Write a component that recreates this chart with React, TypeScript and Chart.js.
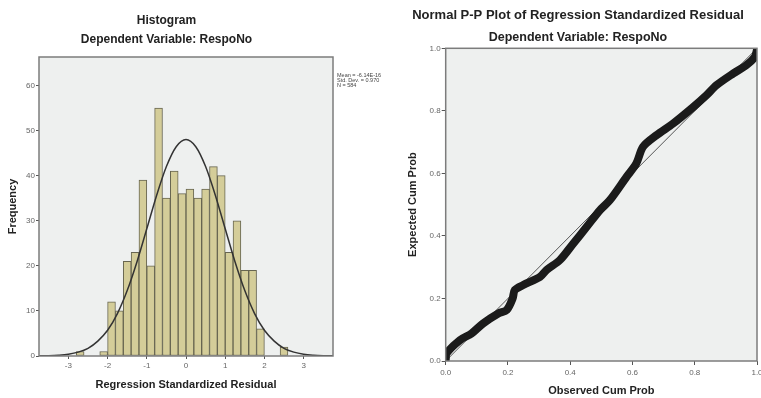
import React, { useEffect, useRef } from "react";
import { Chart, registerables } from "chart.js";

Chart.register(...registerables);

// ---------- Histogram data ----------
const binCenters = [-2.7, -2.5, -2.3, -2.1, -1.9, -1.7, -1.5, -1.3, -1.1, -0.9, -0.7, -0.5, -0.3, -0.1, 0.1, 0.3, 0.5, 0.7, 0.9, 1.1, 1.3, 1.5, 1.7, 1.9, 2.1, 2.3, 2.5];
const binCounts = [1, 0, 0, 1, 12, 10, 21, 23, 39, 20, 55, 35, 41, 36, 37, 35, 37, 42, 40, 23, 30, 19, 19, 6, 0, 0, 2];

// normal curve
const curveX = [-3.75, -3.5, -3.25, -3, -2.75, -2.5, -2.25, -2, -1.75, -1.5, -1.25, -1, -0.75, -0.5, -0.25, 0, 0.25, 0.5, 0.75, 1, 1.25, 1.5, 1.75, 2, 2.25, 2.5, 2.75, 3, 3.25, 3.5, 3.75];
const curveY = [0.03, 0.07, 0.18, 0.4, 0.86, 1.7, 3.3, 5.7, 9.4, 14.5, 20.9, 28.2, 35.6, 42.0, 46.4, 48.0, 46.4, 42.0, 35.6, 28.2, 20.9, 14.5, 9.4, 5.7, 3.3, 1.7, 0.86, 0.4, 0.18, 0.07, 0.03];

const histXTicks = [-3, -2, -1, 0, 1, 2, 3];
const histYTicks = [0, 10, 20, 30, 40, 50, 60];
const statsLines = ["Mean = -6.14E-16", "Std. Dev. = 0.970", "N = 584"];

// ---------- P-P plot data ----------
const observedCum = [0.0, 0.003, 0.046, 0.083, 0.12, 0.169, 0.196, 0.215, 0.222, 0.249, 0.303, 0.324, 0.367, 0.41, 0.453, 0.495, 0.527, 0.581, 0.612, 0.634, 0.677, 0.73, 0.795, 0.838, 0.87, 0.923, 0.966, 0.993, 1.0];
const expectedCum = [0.005, 0.025, 0.067, 0.088, 0.12, 0.152, 0.163, 0.2, 0.227, 0.243, 0.269, 0.291, 0.323, 0.376, 0.429, 0.482, 0.514, 0.589, 0.631, 0.685, 0.722, 0.759, 0.812, 0.85, 0.882, 0.919, 0.946, 0.972, 0.995];
const ppTicks = [0, 0.2, 0.4, 0.6, 0.8, 1.0];

const FAMILY = "'Liberation Sans', Arial, Helvetica, sans-serif";

const framePlugin = {
  id: "frame",
  beforeDraw(chart: any) {
    const { ctx, chartArea: a } = chart;
    ctx.save();
    ctx.fillStyle = "#eef0ef";
    ctx.fillRect(a.left, a.top, a.right - a.left, a.bottom - a.top);
    ctx.restore();
  },
  afterDraw(chart: any) {
    const { ctx, chartArea: a } = chart;
    ctx.save();
    ctx.strokeStyle = "#7c7c7c";
    ctx.lineWidth = 1.5;
    ctx.strokeRect(a.left, a.top, a.right - a.left, a.bottom - a.top);
    ctx.restore();
  },
};

const statsPlugin = {
  id: "stats",
  afterDraw(chart: any) {
    const { ctx, chartArea: a } = chart;
    ctx.save();
    ctx.font = `5.5px ${FAMILY}`;
    ctx.fillStyle = "#444";
    ctx.textAlign = "left";
    ctx.textBaseline = "middle";
    statsLines.forEach((t, i) => ctx.fillText(t, a.right + 4, 75 + i * 5));
    ctx.restore();
  },
};

const tickFont = { size: 8, family: FAMILY };
const axisTitleFont = { size: 11, weight: "bold" as const, family: FAMILY };

export default function App() {
  const histRef = useRef<HTMLCanvasElement>(null);
  const ppRef = useRef<HTMLCanvasElement>(null);

  useEffect(() => {
    const hist = new Chart(histRef.current as HTMLCanvasElement, {
      type: "bar",
      data: {
        datasets: [
          {
            type: "line",
            data: curveX.map((x, i) => ({ x, y: curveY[i] })),
            borderColor: "#333333",
            borderWidth: 1.5,
            pointRadius: 0,
            cubicInterpolationMode: "monotone",
            order: 0,
          } as any,
          {
            type: "bar",
            data: binCenters.map((x, i) => ({ x, y: binCounts[i] })),
            backgroundColor: "#d4cd99",
            borderColor: "#676550",
            borderWidth: 1,
            borderSkipped: false,
            barPercentage: 1,
            categoryPercentage: 1,
            order: 1,
          } as any,
        ],
      },
      options: {
        responsive: false,
        animation: false,
        devicePixelRatio: 1,
        layout: { padding: { left: 0, right: 109, top: 0, bottom: 0 } },
        plugins: {
          legend: { display: false },
          tooltip: { enabled: false },
          title: {
            display: true,
            text: "Histogram",
            color: "#222",
            font: { size: 12, weight: "bold", family: FAMILY, lineHeight: 1.2 },
            padding: { top: 13.8, bottom: 0 },
          },
          subtitle: {
            display: true,
            text: "Dependent Variable: RespoNo",
            color: "#222",
            font: { size: 12, weight: "bold", family: FAMILY, lineHeight: 1.2 },
            padding: { top: 4.6, bottom: 9.8 },
          },
        },
        scales: {
          x: {
            type: "linear",
            min: -3.75,
            max: 3.75,
            offset: false,
            afterBuildTicks: (s: any) => {
              s.ticks = histXTicks.map((v) => ({ value: v }));
            },
            afterFit: (s: any) => {
              s.height = 42;
            },
            grid: { display: true, drawOnChartArea: false, drawTicks: true, tickLength: 3, tickColor: "#555", offset: false },
            border: { display: false },
            ticks: { font: tickFont, color: "#666", padding: 2, maxRotation: 0 },
            title: { display: true, text: "Regression Standardized Residual", color: "#222", font: axisTitleFont, padding: { top: 0, bottom: 6.4 } },
          },
          y: {
            type: "linear",
            min: 0,
            max: 66.3,
            afterBuildTicks: (s: any) => {
              s.ticks = histYTicks.map((v) => ({ value: v }));
            },
            afterFit: (s: any) => {
              s.width = 39;
            },
            grid: { display: true, drawOnChartArea: false, drawTicks: true, tickLength: 3, tickColor: "#555" },
            border: { display: false },
            ticks: { font: tickFont, color: "#666", padding: 1 },
            title: { display: true, text: "Frequency", color: "#222", font: axisTitleFont, padding: { top: 6, bottom: 0 } },
          },
        },
      } as any,
      plugins: [framePlugin, statsPlugin],
    });

    const pp = new Chart(ppRef.current as HTMLCanvasElement, {
      type: "line",
      data: {
        datasets: [
          {
            data: observedCum.map((x, i) => ({ x, y: expectedCum[i] })),
            borderColor: "#1b1b1b",
            borderWidth: 8,
            pointRadius: 0,
            tension: 0.3,
            borderJoinStyle: "round",
            borderCapStyle: "round",
            order: 0,
          } as any,
          {
            data: [
              { x: 0, y: 0 },
              { x: 1, y: 1 },
            ],
            borderColor: "#555",
            borderWidth: 1,
            pointRadius: 0,
            order: 1,
          } as any,
        ],
      },
      options: {
        responsive: false,
        animation: false,
        devicePixelRatio: 1,
        layout: { padding: { left: 19, right: 23, top: 0, bottom: 0 } },
        plugins: {
          legend: { display: false },
          tooltip: { enabled: false },
          title: {
            display: true,
            text: "Normal P-P Plot of Regression Standardized Residual",
            color: "#222",
            font: { size: 13, weight: "bold", family: FAMILY, lineHeight: 1.2 },
            padding: { top: 7.2, bottom: 0 },
          },
          subtitle: {
            display: true,
            text: "Dependent Variable: RespoNo",
            color: "#222",
            font: { size: 12.5, weight: "bold", family: FAMILY, lineHeight: 1.2 },
            padding: { top: 7.7, bottom: 2.8 },
          },
        },
        scales: {
          x: {
            type: "linear",
            min: 0,
            max: 1,
            afterBuildTicks: (s: any) => {
              s.ticks = ppTicks.map((v) => ({ value: v }));
            },
            afterFit: (s: any) => {
              s.height = 37;
            },
            grid: { display: true, drawOnChartArea: false, drawTicks: true, tickLength: 4, tickColor: "#555" },
            border: { display: false },
            ticks: { font: tickFont, color: "#666", padding: 3, maxRotation: 0, callback: (v: any) => Number(v).toFixed(1) },
            title: { display: true, text: "Observed Cum Prob", color: "#222", font: axisTitleFont, padding: { top: 0, bottom: 0 } },
          },
          y: {
            type: "linear",
            min: 0,
            max: 1,
            afterBuildTicks: (s: any) => {
              s.ticks = ppTicks.map((v) => ({ value: v }));
            },
            afterFit: (s: any) => {
              s.width = 46.7;
            },
            grid: { display: true, drawOnChartArea: false, drawTicks: true, tickLength: 4, tickColor: "#555" },
            border: { display: false },
            ticks: { font: tickFont, color: "#666", padding: 1, callback: (v: any) => Number(v).toFixed(1) },
            title: { display: true, text: "Expected Cum Prob", color: "#222", font: axisTitleFont, padding: { top: 7, bottom: 0 } },
          },
        },
      } as any,
      plugins: [framePlugin],
    });

    return () => {
      hist.destroy();
      pp.destroy();
    };
  }, []);

  return (
    <div
      style={{
        position: "fixed",
        left: 0,
        top: 0,
        width: 761,
        height: 398,
        overflow: "hidden",
        background: "#ffffff",
      }}
    >
      <canvas ref={histRef} width={442} height={398} style={{ position: "absolute", left: 0, top: 0 }} />
      <canvas ref={ppRef} width={400} height={398} style={{ position: "absolute", left: 380, top: 0 }} />
    </div>
  );
}
